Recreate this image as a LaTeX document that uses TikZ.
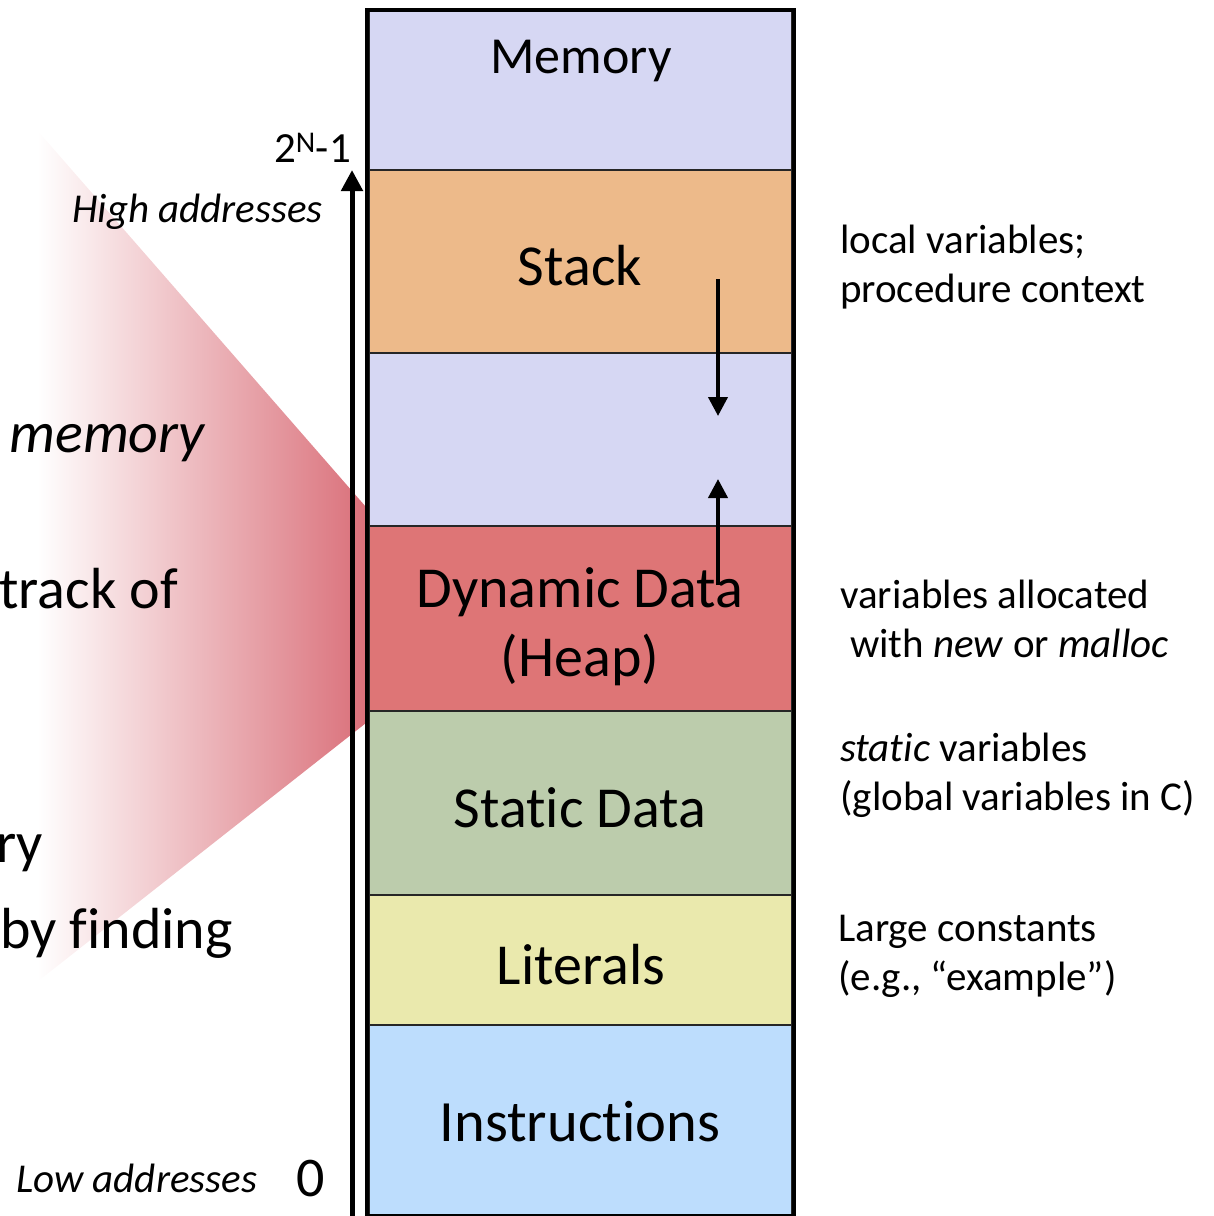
\documentclass[tikz,border=0pt]{standalone}
\usepackage{fontspec}
\setmainfont{Carlito}[Ligatures={NoCommon}]
\usetikzlibrary{arrows.meta}
\definecolor{memc}{RGB}{214,215,243}
\definecolor{stackc}{RGB}{237,186,138}
\definecolor{heapc}{RGB}{222,117,118}
\definecolor{staticc}{RGB}{188,204,172}
\definecolor{litc}{RGB}{234,233,173}
\definecolor{instrc}{RGB}{189,221,253}
\definecolor{gradc}{RGB}{218,112,122}
\begin{document}
\begin{tikzpicture}[x=1pt,y=-1pt,
  region/.style={draw=black!85, line width=1.8pt, inner sep=0pt, minimum width=423pt},
  big/.style={font=\fontsize{58}{70}\selectfont, inner sep=0pt, anchor=base},
  side/.style={font=\fontsize{41}{50}\selectfont, inner sep=0pt, anchor=base west},
  cut/.style={font=\fontsize{58}{70}\selectfont, inner sep=0pt},
  addr/.style={font=\fontsize{41}{49}\selectfont\itshape, inner sep=0pt},
  growarrow/.style={line width=4pt, -{Triangle[length=19pt,width=19pt]}}
]
\useasboundingbox (0,0) rectangle (1214,1216);

% gradient wedge
\shade[left color=white, right color=gradc]
  (37,130) -- (366,507) -- (366,723) -- (37,982) -- cycle;

% left cut-off texts
\node[cut, anchor=base east] (lmem) at (205,452) {\itshape memory};
\node[cut, anchor=base east] (ltrack) at (178,608) {track of};
\node[cut, anchor=base east] (lry) at (43,862) {ry};
\node[cut, anchor=base west] (lby) at (0,948) {by finding};

% regions
\node[region, fill=memc, minimum height=160pt] (mem) at (580.5,90) {};
\node[region, fill=stackc, minimum height=183pt] (stack) at (580.5,261.5) {};
\node[region, fill=memc, minimum height=173pt] (free) at (580.5,439.5) {};
\node[region, fill=heapc, minimum height=185pt] (heap) at (580.5,618.5) {};
\node[region, fill=staticc, minimum height=184pt] (static) at (580.5,803) {};
\node[region, fill=litc, minimum height=130pt] (lit) at (580.5,960) {};
\node[region, fill=instrc, minimum height=190pt] (instr) at (580.5,1120) {};
% outer frame
\node[draw=black, line width=4.5pt, minimum width=427pt, minimum height=1206pt, inner sep=0pt] (frame) at (580.5,613) {};

% region labels
\node[big, font=\fontsize{52}{62}\selectfont] (tmem) at (581,73) {Memory};
\node[big] (tstack) at (580,285) {Stack};
\node[big] (theap1) at (580,607) {Dynamic Data};
\node[big] (theap2) at (580,676) {(Heap)};
\node[big] (tstatic) at (580,827) {Static Data};
\node[big] (tlit) at (581,984) {Literals};
\node[big, font=\fontsize{58.5}{70}\selectfont] (tinstr) at (580,1141) {Instructions};

% growth arrows
\coordinate (sa1) at (718,279);
\coordinate (sa2) at (718,416);
\coordinate (ha1) at (718,585);
\coordinate (ha2) at (718,479);
\draw[growarrow] (sa1) -- (sa2);
\draw[growarrow] (ha1) -- (ha2);

% address axis
\coordinate (ax0) at (352,1216);
\coordinate (ax1) at (352,170);
\draw[line width=5pt, -{Triangle[length=21pt,width=21pt]}] (ax0) -- (ax1);
\node[font=\fontsize{43}{50}\selectfont, inner sep=0pt, anchor=base east] (top) at (351,162) {2\textsuperscript{N}-1};
\node[addr, anchor=base east] (high) at (323,222) {High addresses};
\node[addr, anchor=base west] (low) at (16,1192) {Low addresses};
\node[font=\fontsize{56}{66}\selectfont, inner sep=0pt, anchor=base] (zero) at (311,1196) {0};

% side notes
\node[side] (n1a) at (840,253) {local variables;};
\node[side] (n1b) at (840,302) {procedure context};
\node[side] (n2a) at (840,608) {variables allocated};
\node[side] (n2b) at (850,657) {with \textit{new} or \textit{malloc}};
\node[side] (n3a) at (840,761) {\textit{static} variables};
\node[side] (n3b) at (840,810) {(global variables in C)};
\node[side] (n4a) at (838,941) {Large constants};
\node[side] (n4b) at (838,990) {(e.g., “example”)};
\end{tikzpicture}
\end{document}
